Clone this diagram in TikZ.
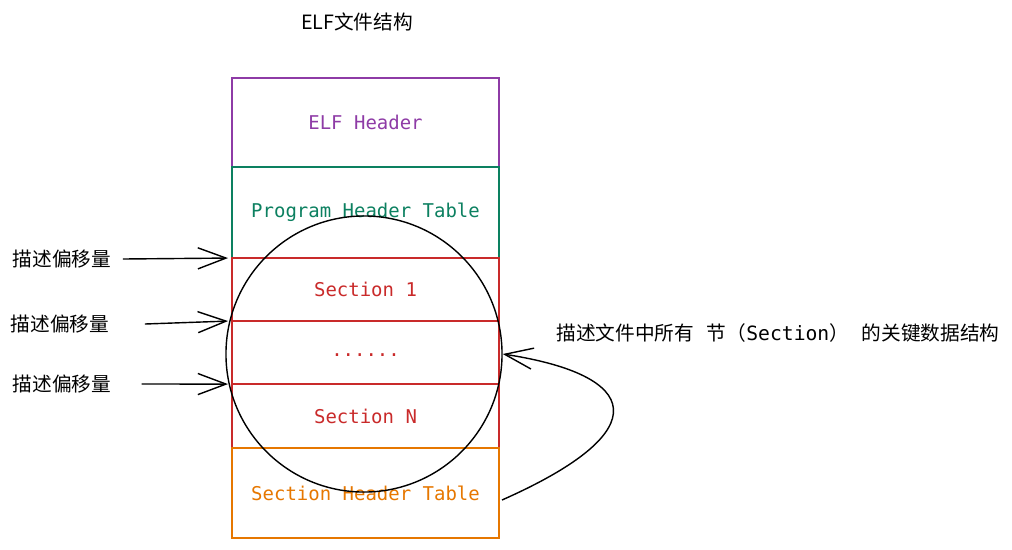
\documentclass[tikz,border=0pt]{standalone}
\usepackage{fontspec}
\setmonofont{DejaVu Sans Mono}
\newfontfamily\cjk{Noto Sans CJK SC}
\usepackage{xcolor}
\usetikzlibrary{arrows.meta,positioning}
\definecolor{elfpurple}{HTML}{8E3BA6}
\definecolor{phtgreen}{HTML}{0C8060}
\definecolor{secred}{HTML}{C92A2A}
\definecolor{shtorange}{HTML}{E67700}

\begin{document}
\begin{tikzpicture}[
    x=0.025cm, y=-0.025cm, node distance=0pt,
    segbox/.style={draw=#1, text=#1, line width=1.1pt, minimum width=6.675cm, inner sep=0pt, outer sep=0pt, font=\ttfamily\fontsize{13.5}{16}\selectfont},
    note/.style={font=\cjk\fontsize{14}{17}\selectfont, inner sep=1pt},
    pointer/.style={-{Straight Barb[length=20pt,width=15pt]}, line width=1pt}
]
\useasboundingbox (0,0) rectangle (1012,549);
\node[note] (title) at (357,22) {ELF文件结构};

% the stacked segments of the file
\node[segbox=elfpurple, minimum height=2.225cm, anchor=north west] (elf) at (232,78) {ELF Header};
\node[segbox=phtgreen, minimum height=2.275cm, below=of elf] (pht) {Program Header Table};
\node[segbox=secred, minimum height=1.575cm, below=of pht] (sec1) {Section 1};
\node[segbox=secred, minimum height=1.575cm, text height=1.3ex, text depth=0pt, below=of sec1] (dots) {......};
\node[segbox=secred, minimum height=1.6cm, below=of dots] (secn) {Section N};
\node[segbox=shtorange, minimum height=2.25cm, below=of secn] (sht) {Section Header Table};

\node[draw, circle, line width=1pt, minimum size=6.9cm] (ring) at (364,354) {};

% offsets
\node[note] (off1) at (62,259) {描述偏移量};
\node[note] (off2) at (60,324) {描述偏移量};
\node[note] (off3) at (62,384) {描述偏移量};
\draw[pointer] ([xshift=0.25cm]off1.east) -- ([xshift=-0.1cm]sec1.north west);
\draw[pointer] ([xshift=0.85cm]off2.east) -- ([xshift=-0.1cm]dots.north west);
\draw[pointer] ([xshift=0.72cm]off3.east) -- ([xshift=-0.1cm]secn.north west);

\node[note] (desc) at (778,333) {描述文件中所有\hspace{9pt}节（{\ttfamily Section}）\hspace{9pt}的关键数据结构};
\coordinate (shtout) at (502,500);
\draw[pointer] (shtout) .. controls (660,430) and (640,375) .. (ring.east);
\end{tikzpicture}
\end{document}
